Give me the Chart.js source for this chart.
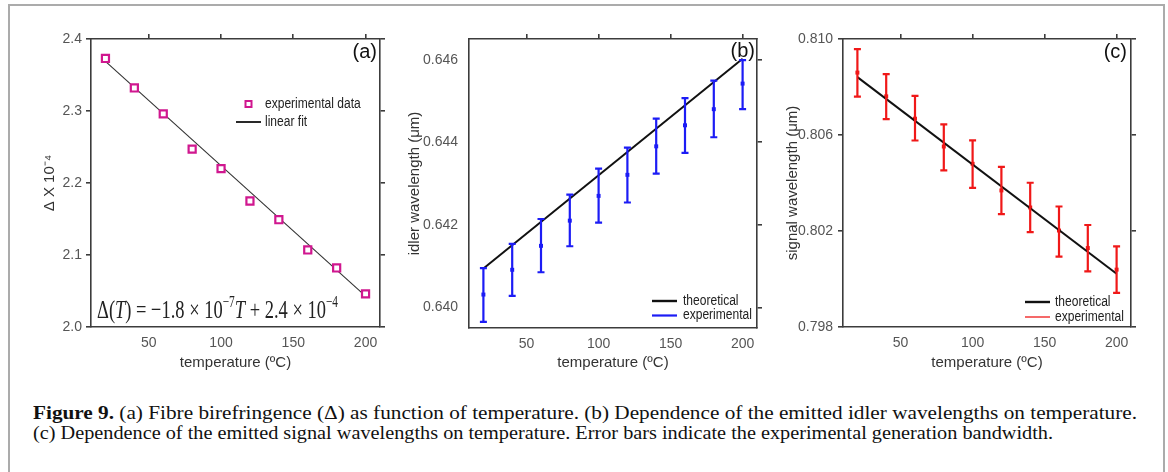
<!DOCTYPE html>
<html>
<head>
<meta charset="utf-8">
<title>Figure 9</title>
<script src="https://cdn.jsdelivr.net/npm/chart.js@4.4.1/dist/chart.umd.min.js"></script>
<style>
  html, body { margin: 0; padding: 0; background: #fff; }
  body { width: 1168px; height: 472px; position: relative; overflow: hidden; }
  .frame { position: absolute; left: 8px; top: 4px; width: 1153px; height: 490px; border: 2px solid #ababab; border-bottom: none; }
  canvas { position: absolute; top: 10px; }
  #caption { position: absolute; left: 33px; top: 403px; font-family: "Liberation Serif", "DejaVu Serif", serif; font-size: 19.5px; line-height: 20px; color: #111; white-space: nowrap; }
  #caption div { transform-origin: 0 0; }
  #caption span { display: inline-block; }
  #caption b { font-weight: bold; }
</style>
</head>
<body>
<div class="frame"></div>
<canvas id="panelA" width="380" height="370" style="left:10px"></canvas>
<canvas id="panelB" width="375" height="370" style="left:395px"></canvas>
<canvas id="panelC" width="385" height="370" style="left:775px"></canvas>
<div id="caption">
  <div data-width="1104"><span><b>Figure 9.</b> (a) Fibre birefringence (Δ) as function of temperature. (b) Dependence of the emitted idler wavelengths on temperature.</span></div>
  <div data-width="1020"><span>(c) Dependence of the emitted signal wavelengths on temperature. Error bars indicate the experimental generation bandwidth.</span></div>
</div>
<script>
// temperature grid shared by all three panels
var temps = [20, 40, 60, 80, 100, 120, 140, 160, 180, 200];
var tempTicks = [50, 100, 150, 200];
var fitTemps = [20, 200];

// (a) birefringence, in units of 1e-4
var biref = [2.373, 2.332, 2.296, 2.247, 2.220, 2.175, 2.149, 2.107, 2.082, 2.046];
var birefFit = [2.369, 2.043];
var birefTicks = [2.0, 2.1, 2.2, 2.3, 2.4];

// (b) idler wavelength, um
var idler = [0.64031, 0.64091, 0.64149, 0.64210, 0.64270, 0.64321, 0.64390, 0.64441, 0.64480, 0.64542];
var idlerHigh = [0.64095, 0.64154, 0.64214, 0.64273, 0.64336, 0.64387, 0.64457, 0.64507, 0.64549, 0.64599];
var idlerLow = [0.63965, 0.64028, 0.64085, 0.64148, 0.64205, 0.64254, 0.64324, 0.64374, 0.64412, 0.64480];
var idlerTheory = [0.64094, 0.64602];
var idlerTicks = [0.640, 0.642, 0.644, 0.646];

// (c) signal wavelength, um
var signal = [0.80860, 0.80761, 0.80668, 0.80552, 0.80480, 0.80369, 0.80298, 0.80202, 0.80129, 0.80039];
var signalHigh = [0.80958, 0.80854, 0.80763, 0.80644, 0.80578, 0.80467, 0.80401, 0.80302, 0.80225, 0.80136];
var signalLow = [0.80760, 0.80666, 0.80577, 0.80453, 0.80380, 0.80270, 0.80195, 0.80093, 0.80032, 0.79942];
var signalTheory = [0.80841, 0.80022];
var signalTicks = [0.798, 0.802, 0.806, 0.810];

var AXIS = '#3c3c3c';
var SANS = '"Liberation Sans", Arial, sans-serif';
var SERIF = '"Liberation Serif", "DejaVu Serif", serif';

function pairs(xs, ys) {
  return xs.map(function (x, i) { return { x: x, y: ys[i] }; });
}

function fixedTicks(values) {
  return function (scale) {
    scale.ticks = values.map(function (v) { return { value: v }; });
  };
}

function marks(len) {
  return { drawOnChartArea: false, drawTicks: len > 0, tickLength: len, color: AXIS, lineWidth: 1.6 };
}

function buildScales(p) {
  var edge = { color: AXIS, width: 1.6 };
  return {
    x: {
      type: 'linear', position: 'bottom', min: 10, max: 210,
      afterBuildTicks: fixedTicks(tempTicks),
      border: edge, grid: marks(0),
      ticks: { color: '#555', font: { family: SANS, size: 14 }, padding: p.xPad },
      title: { display: true, text: 'temperature (ºC)', color: '#333', font: { family: SANS, size: 15 }, padding: { top: 0, bottom: 8 } },
      afterFit: function (s) { s.height = p.bottom; }
    },
    x2: {
      type: 'linear', position: 'top', min: 10, max: 210,
      afterBuildTicks: fixedTicks(tempTicks),
      border: edge, grid: marks(5), ticks: { display: false },
      afterFit: function (s) { s.height = p.top; }
    },
    y: {
      type: 'linear', position: 'left', min: p.min, max: p.max,
      afterBuildTicks: fixedTicks(p.ticks),
      border: edge, grid: marks(p.leftTick),
      ticks: {
        color: '#555', font: { family: SANS, size: 14 }, padding: p.yPad,
        callback: function (v) { return v.toFixed(p.digits); }
      },
      title: { display: true, text: p.title, color: '#333', font: { family: SANS, size: 15 }, padding: { top: p.titlePad, bottom: 0 } },
      afterFit: function (s) { s.width = p.left; }
    },
    y2: {
      type: 'linear', position: 'right', min: p.min, max: p.max,
      afterBuildTicks: fixedTicks(p.ticks),
      border: edge, grid: marks(5), ticks: { display: false },
      afterFit: function (s) { s.width = p.right; }
    }
  };
}

// vertical error bars with caps, from each dataset's low/high arrays
var errorBars = {
  id: 'errorBars',
  afterDatasetsDraw: function (chart) {
    var ctx = chart.ctx;
    var xs = chart.scales.x, ys = chart.scales.y;
    chart.data.datasets.forEach(function (ds) {
      if (!ds.low) return;
      ctx.save();
      ctx.strokeStyle = ds.backgroundColor;
      ctx.lineWidth = 2.2;
      ds.data.forEach(function (pt, j) {
        var px = xs.getPixelForValue(pt.x);
        var top = ys.getPixelForValue(ds.high[j]);
        var bot = ys.getPixelForValue(ds.low[j]);
        ctx.beginPath();
        ctx.moveTo(px, top); ctx.lineTo(px, bot);
        ctx.moveTo(px - 3.5, top); ctx.lineTo(px + 3.5, top);
        ctx.moveTo(px - 3.5, bot); ctx.lineTo(px + 3.5, bot);
        ctx.stroke();
      });
      ctx.restore();
    });
  }
};

// small in-plot legend; the labels are set a little narrow
var panelLegend = {
  id: 'panelLegend',
  afterDraw: function (chart, args, opts) {
    if (!opts.rows) return;
    var area = chart.chartArea, ctx = chart.ctx;
    var x = area.left + opts.x, y = area.top + opts.y;
    ctx.save();
    ctx.font = '14px ' + SANS;
    ctx.textBaseline = 'middle';
    opts.rows.forEach(function (idx, row) {
      var ds = chart.data.datasets[idx];
      var cy = y + row * opts.rowGap;
      if (ds.legendSymbol === 'marker') {
        ctx.strokeStyle = ds.borderColor;
        ctx.lineWidth = 2;
        ctx.fillStyle = '#fff';
        ctx.fillRect(x + opts.lineLen / 2 - 3, cy - 3, 6, 6);
        ctx.strokeRect(x + opts.lineLen / 2 - 3, cy - 3, 6, 6);
      } else {
        ctx.strokeStyle = ds.legendColor || ds.borderColor;
        ctx.lineWidth = ds.legendWidth || 2;
        ctx.beginPath();
        ctx.moveTo(x, cy); ctx.lineTo(x + opts.lineLen, cy);
        ctx.stroke();
      }
      ctx.save();
      ctx.translate(x + opts.lineLen + opts.gap, cy);
      ctx.scale(0.86, 1);
      ctx.fillStyle = '#222';
      ctx.fillText(ds.label, 0, 0);
      ctx.restore();
    });
    ctx.restore();
  }
};

var panelTag = {
  id: 'panelTag',
  afterDraw: function (chart, args, opts) {
    if (!opts.text) return;
    var area = chart.chartArea, ctx = chart.ctx;
    ctx.save();
    ctx.font = '20px ' + SANS;
    ctx.fillStyle = '#111';
    ctx.textAlign = 'right';
    ctx.textBaseline = 'middle';
    ctx.fillText(opts.text, area.right - opts.dx, area.top + opts.dy);
    ctx.restore();
  }
};

// fit equation typeset along the bottom of panel (a)
var fitEquation = {
  id: 'fitEquation',
  afterDraw: function (chart, args, opts) {
    if (!opts.parts) return;
    var area = chart.chartArea, ctx = chart.ctx;
    var fontFor = function (p) {
      return (p.it ? 'italic ' : '') + (p.sup ? 16 : 26) + 'px ' + SERIF;
    };
    ctx.save();
    var total = 0;
    opts.parts.forEach(function (p) { ctx.font = fontFor(p); total += ctx.measureText(p.t).width; });
    ctx.translate(area.left + opts.dx, area.bottom - opts.dy);
    ctx.scale(opts.width / total, 1);
    ctx.fillStyle = '#222';
    ctx.textBaseline = 'alphabetic';
    var cx = 0;
    opts.parts.forEach(function (p) {
      ctx.font = fontFor(p);
      ctx.fillText(p.t, cx, p.sup ? -11 : 0);
      cx += ctx.measureText(p.t).width;
    });
    ctx.restore();
  }
};

Chart.register(errorBars, panelLegend, panelTag, fitEquation);

function makeChart(id, datasets, scales, plugins) {
  plugins.legend = { display: false };
  plugins.tooltip = { enabled: false };
  return new Chart(document.getElementById(id), {
    type: 'scatter',
    data: { datasets: datasets },
    options: {
      responsive: false, animation: false, devicePixelRatio: 1,
      layout: { padding: 0 },
      scales: scales,
      plugins: plugins
    }
  });
}

makeChart('panelA', [
  {
    label: 'experimental data', data: pairs(temps, biref), showLine: false,
    pointStyle: 'rect', pointRadius: 5, pointBorderWidth: 2.2,
    borderColor: '#d0178f', backgroundColor: '#fff', legendSymbol: 'marker',
    xAxisID: 'x', yAxisID: 'y'
  },
  {
    label: 'linear fit', data: pairs(fitTemps, birefFit), showLine: true,
    pointRadius: 0, borderColor: '#333', borderWidth: 1.1, legendWidth: 1.8, legendColor: '#111',
    xAxisID: 'x', yAxisID: 'y'
  }
], buildScales({
  min: 2.0, max: 2.4, ticks: birefTicks, digits: 1, title: 'Δ X 10⁻⁴',
  left: 81, right: 10, top: 29, bottom: 53, titlePad: 31, yPad: 4, leftTick: 5, xPad: 8
}), {
  panelLegend: { rows: [0, 1], x: 145, y: 65, rowGap: 18, lineLen: 25, gap: 4 },
  panelTag: { text: '(a)', dx: 3, dy: 13 },
  fitEquation: {
    dx: 6, dy: 9, width: 241,
    parts: [
      { t: 'Δ(' }, { t: 'T', it: true }, { t: ') = −1.8 × 10' }, { t: '−7', sup: true },
      { t: 'T', it: true }, { t: ' + 2.4 × 10' }, { t: '−4', sup: true }
    ]
  }
});

makeChart('panelB', [
  {
    label: 'theoretical', data: pairs(fitTemps, idlerTheory), showLine: true,
    pointRadius: 0, borderColor: '#111', borderWidth: 2, legendWidth: 2.4,
    xAxisID: 'x', yAxisID: 'y'
  },
  {
    label: 'experimental', data: pairs(temps, idler), showLine: false,
    pointStyle: 'rect', pointRadius: 2.8, pointBorderWidth: 0,
    borderColor: '#1c1cf5', backgroundColor: '#1c1cf5', legendWidth: 2.2,
    low: idlerLow, high: idlerHigh,
    xAxisID: 'x', yAxisID: 'y'
  }
], buildScales({
  min: 0.6395, max: 0.6465, ticks: idlerTicks, digits: 3, title: 'idler wavelength (μm)',
  left: 74, right: 13, top: 29, bottom: 52, titlePad: 11, yPad: 11, leftTick: 0, xPad: 7.5
}), {
  panelLegend: { rows: [0, 1], x: 183, y: 262, rowGap: 14.5, lineLen: 25, gap: 6 },
  panelTag: { text: '(b)', dx: 2, dy: 12 }
});

makeChart('panelC', [
  {
    label: 'theoretical', data: pairs(fitTemps, signalTheory), showLine: true,
    pointRadius: 0, borderColor: '#111', borderWidth: 2, legendWidth: 2.4,
    xAxisID: 'x', yAxisID: 'y'
  },
  {
    label: 'experimental', data: pairs(temps, signal), showLine: false,
    pointStyle: 'rect', pointRadius: 2.8, pointBorderWidth: 0,
    borderColor: '#f01818', backgroundColor: '#f01818', legendWidth: 1.3,
    low: signalLow, high: signalHigh,
    xAxisID: 'x', yAxisID: 'y'
  }
], buildScales({
  min: 0.798, max: 0.810, ticks: signalTicks, digits: 3, title: 'signal wavelength (μm)',
  left: 68, right: 29, top: 29, bottom: 53, titlePad: 9, yPad: 5, leftTick: 5, xPad: 8
}), {
  panelLegend: { rows: [0, 1], x: 182, y: 263, rowGap: 15, lineLen: 25, gap: 5 },
  panelTag: { text: '(c)', dx: 4, dy: 13 }
});

// stretch each caption line to its set width
document.querySelectorAll('#caption div').forEach(function (line) {
  var natural = line.firstElementChild.getBoundingClientRect().width;
  line.style.transform = 'scaleX(' + (Number(line.getAttribute('data-width')) / natural) + ')';
});
</script>
</body>
</html>
